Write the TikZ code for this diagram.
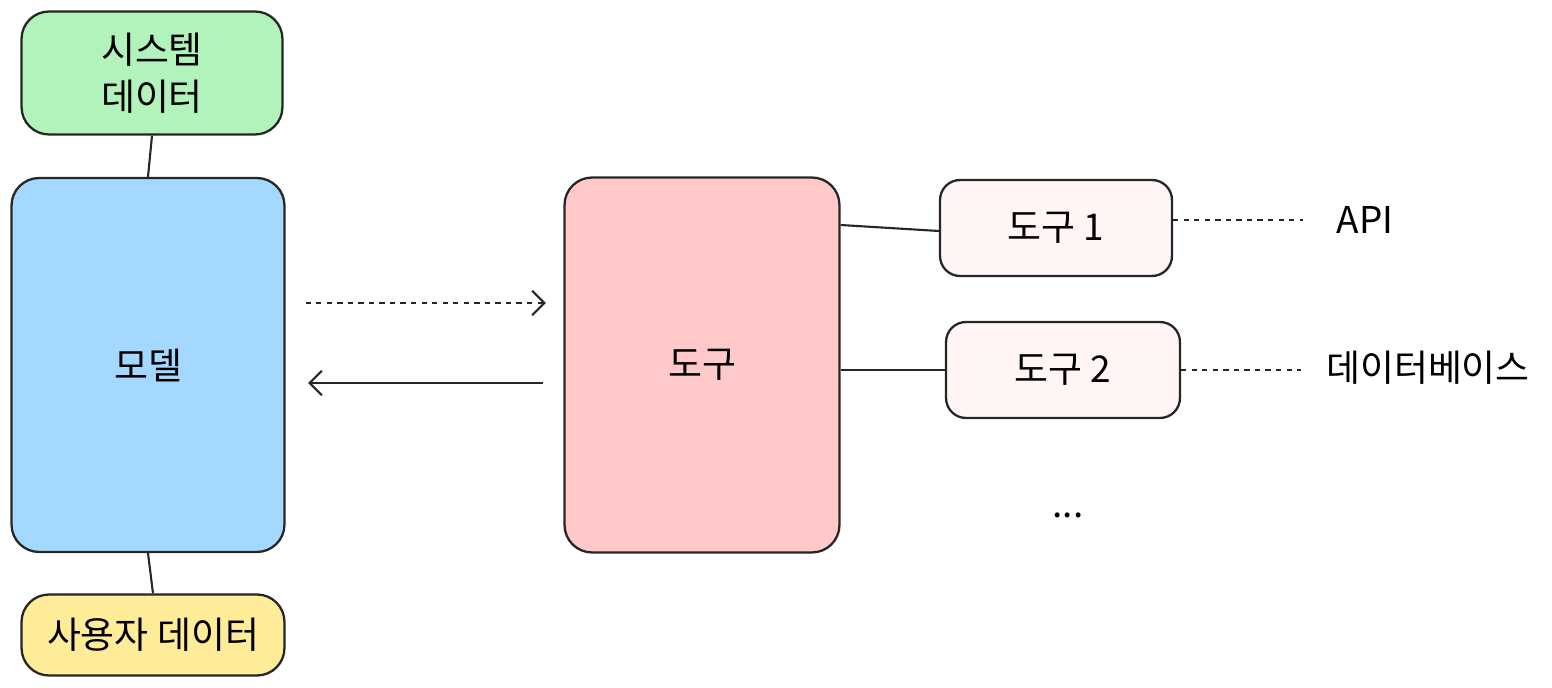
\documentclass[tikz,border=0pt]{standalone}
\usepackage{fontspec}
\setmainfont{Noto Sans CJK KR}
\usetikzlibrary{arrows.meta}
\begin{document}
\begin{tikzpicture}[x=0.02cm,y=-0.02cm,
  box/.style={draw=black!85,line width=1.3pt,rounded corners=0.55cm,align=center,inner sep=0pt,font=\fontsize{21}{27}\selectfont},
  lbl/.style={font=\fontsize{21}{27}\selectfont},
  ln/.style={line width=1.2pt,draw=black!85},
  arr/.style={ln,-{Straight Barb[length=7pt,width=14pt]}}]
\useasboundingbox (0,0) rectangle (1552,688);
\node[box,fill=green!30!white,fill={rgb,255:red,178;green,242;blue,187},minimum width=5.22cm,minimum height=2.46cm] (sys) at (152,73) {시스템\\데이터};
\node[box,fill={rgb,255:red,165;green,216;blue,255},minimum width=5.46cm,minimum height=7.48cm] (model) at (148,365) {모델};
\node[box,fill={rgb,255:red,255;green,236;blue,153},minimum width=5.26cm,minimum height=1.62cm] (user) at (153,635) {사용자 데이터};
\node[box,fill={rgb,255:red,255;green,201;blue,201},minimum width=5.5cm,minimum height=7.5cm] (tool) at (702,365) {도구};
\node[box,fill={rgb,255:red,255;green,245;blue,245},minimum width=4.64cm,minimum height=1.92cm,rounded corners=0.4cm] (t1) at (1056,228) {도구 1};
\node[box,fill={rgb,255:red,255;green,245;blue,245},minimum width=4.68cm,minimum height=1.92cm,rounded corners=0.4cm] (t2) at (1063,370) {도구 2};
\node[lbl,font=\fontsize{21}{27}\selectfont\itshape] (api) at (1365,220) {API};
\node[lbl] (db) at (1428,368) {데이터베이스};
\node[lbl] (dots) at (1068,515) {...};
\draw[ln] (sys.south) -- (model.north);
\draw[ln] (model.south) -- (user.north);
\draw[arr,dashed] ([xshift=0.4cm,yshift=1.24cm]model.east) -- ([xshift=-0.35cm,yshift=1.24cm]tool.west);
\draw[arr] ([xshift=-0.4cm,yshift=-0.36cm]tool.west) -- ([xshift=0.45cm,yshift=-0.36cm]model.east);
\draw[ln] (tool.east |- t1.west) ++(0,0.06cm) -- ([yshift=-0.06cm]t1.west);
\draw[ln] (tool.east |- t2.west) -- (t2.west);
\draw[ln,dashed] ([yshift=0.16cm]t1.east) -- ++(2.6cm,0);
\draw[ln,dashed] (t2.east) -- ++(2.4cm,0);
\end{tikzpicture}
\end{document}
